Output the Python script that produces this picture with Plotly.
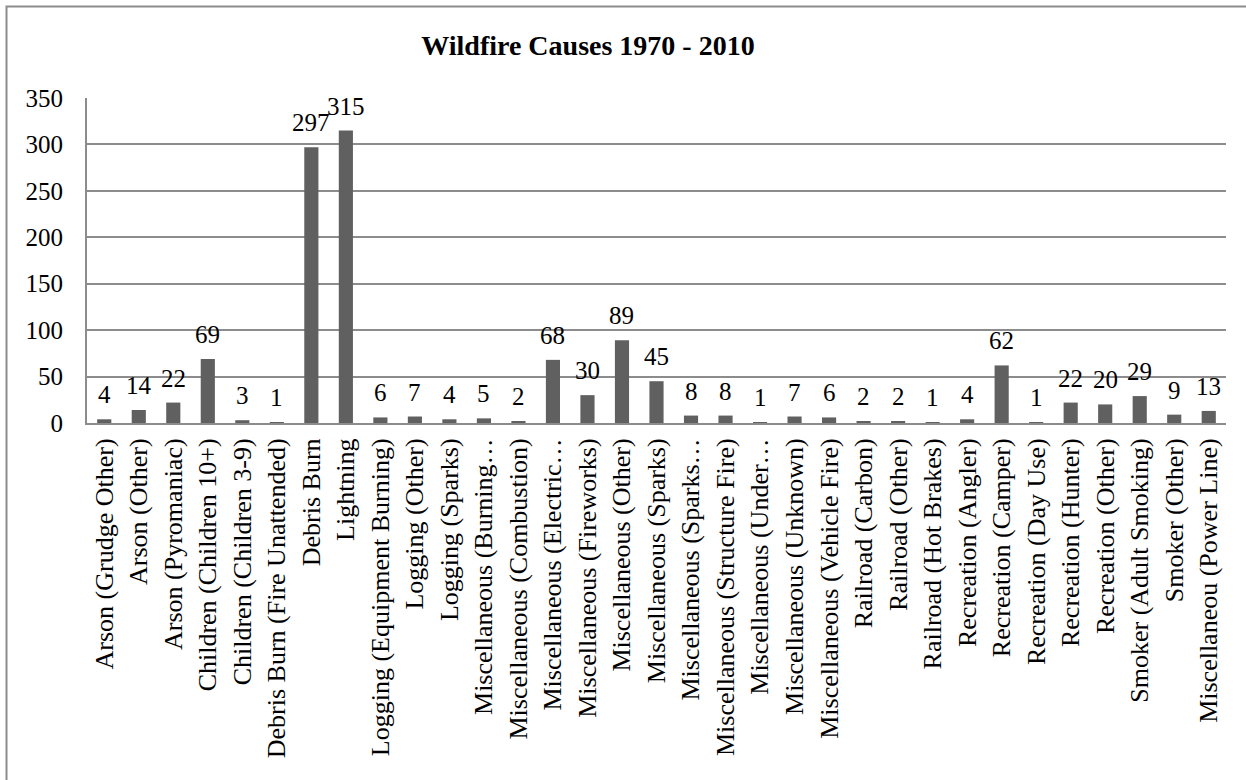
import plotly.graph_objects as go

# Wildfire cause categories and fire counts, 1970 - 2010
causes = [
    "Arson (Grudge Other)", "Arson (Other)", "Arson (Pyromaniac)",
    "Children (Children 10+)", "Children (Children 3-9)",
    "Debris Burn (Fire Unattended)", "Debris Burn", "Lightning",
    "Logging (Equipment Burning)", "Logging (Other)", "Logging (Sparks)",
    "Miscellaneous (Burning…", "Miscellaneous (Combustion)",
    "Miscellaneous (Electric…", "Miscellaneous (Fireworks)",
    "Miscellaneous (Other)", "Miscellaneous (Sparks)", "Miscellaneous (Sparks…",
    "Miscellaneous (Structure Fire)", "Miscellaneous (Under…",
    "Miscellaneous (Unknown)", "Miscellaneous (Vehicle Fire)",
    "Railroad (Carbon)", "Railroad (Other)", "Railroad (Hot Brakes)",
    "Recreation (Angler)", "Recreation (Camper)", "Recreation (Day Use)",
    "Recreation (Hunter)", "Recreation (Other)", "Smoker (Adult Smoking)",
    "Smoker (Other)", "Miscellaneou (Power Line)",
]
fires = [4, 14, 22, 69, 3, 1, 297, 315, 6, 7, 4, 5, 2, 68, 30, 89, 45, 8, 8,
         1, 7, 6, 2, 2, 1, 4, 62, 1, 22, 20, 29, 9, 13]

y_ticks = [0, 50, 100, 150, 200, 250, 300, 350]

W, H = 1246, 780
ML, MR, MT, MB = 87, 20, 98, 357
GRID = "#8c8c8c"
FONT = "Liberation Serif, Times New Roman, serif"

fig = go.Figure()
fig.add_trace(go.Bar(
    x=causes, y=fires,
    marker=dict(color="#606060", line=dict(width=0)),
    hoverinfo="x+y",
))

# value labels above each bar
for c, v in zip(causes, fires):
    fig.add_annotation(
        x=c, y=v, text=str(v), showarrow=False,
        xanchor="center", yanchor="bottom", yshift=9,
        font=dict(family=FONT, size=25, color="#000000"),
    )

# outer chart frame
pw = W - ML - MR
ph = H - MT - MB
fig.add_shape(
    type="rect", xref="paper", yref="paper",
    x0=(6.5 - ML) / pw, x1=(W + 10 - ML) / pw,
    y0=1 - (H + 10 - MT) / ph, y1=1 + (MT - 6.5) / ph,
    line=dict(color=GRID, width=2), fillcolor="rgba(0,0,0,0)", layer="above",
)

fig.update_layout(
    width=W, height=H,
    margin=dict(l=ML, r=MR, t=MT, b=MB, pad=0),
    paper_bgcolor="white", plot_bgcolor="white",
    bargap=0.59,
    showlegend=False,
    title=dict(
        text="<b>Wildfire Causes 1970 - 2010</b>",
        x=588 / W, xref="container", xanchor="center",
        y=1 - 45 / H, yanchor="middle",
        font=dict(family=FONT, size=28, color="#000000"),
    ),
    xaxis=dict(
        type="category", tickangle=-90,
        tickfont=dict(family=FONT, size=26, color="#000000"),
        showgrid=False, showline=True, linecolor=GRID, linewidth=2,
        ticks="", ticklabelstandoff=3, automargin=False,
    ),
    yaxis=dict(
        range=[0, 350], tickvals=y_ticks,
        tickfont=dict(family=FONT, size=25, color="#000000"),
        showgrid=True, gridcolor=GRID, gridwidth=2,
        showline=True, linecolor=GRID, linewidth=2,
        zeroline=False, ticks="", ticklabelstandoff=17, automargin=False,
    ),
)

fig.write_html("out.html")
